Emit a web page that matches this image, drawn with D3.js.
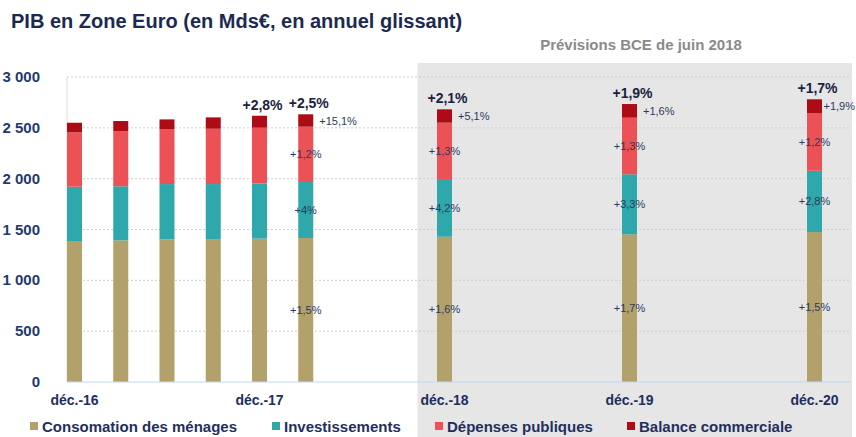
<!DOCTYPE html>
<html>
<head>
  <meta charset="utf-8">
  <title>PIB en Zone Euro</title>
  <script src="https://cdn.jsdelivr.net/npm/d3@7/dist/d3.min.js"></script>
  <style>
    body { margin: 0; background: #fff; }
    svg { display: block; font-family: "Liberation Sans", Arial, sans-serif; }
  </style>
</head>
<body>
  <svg id="chart"></svg>

  <script>
    // quarterly periods on the x axis (only some carry a bar)
    const periods = ["déc.-16", "mars-17", "juin-17", "sept.-17", "déc.-17", "mars-18", "juin-18", "sept.-18",
      "déc.-18", "mars-19", "juin-19", "sept.-19", "déc.-19", "mars-20", "juin-20", "sept.-20", "déc.-20"];
    const tickLabels = ["déc.-16", "déc.-17", "déc.-18", "déc.-19", "déc.-20"];
    const forecastStart = "déc.-18";

    // bars (Mds€)
    const barPeriods = ["déc.-16", "mars-17", "juin-17", "sept.-17", "déc.-17", "mars-18", "déc.-18", "déc.-19", "déc.-20"];
    const consommation = [1387, 1393, 1403, 1406, 1410, 1416, 1429, 1452, 1475];
    const investissements = [534, 532, 544, 541, 543, 551, 568, 591, 603];
    const depenses = [534, 541, 541, 544, 548, 544, 554, 557, 565];
    const balance = [95, 101, 95, 112, 118, 122, 131, 134, 138];

    // growth labels
    const totalLabels = ["", "", "", "", "+2,8%", "+2,5%", "+2,1%", "+1,9%", "+1,7%"];
    const consoLabels = ["", "", "", "", "", "+1,5%", "+1,6%", "+1,7%", "+1,5%"];
    const investLabels = ["", "", "", "", "", "+4%", "+4,2%", "+3,3%", "+2,8%"];
    const depLabels = ["", "", "", "", "", "+1,2%", "+1,3%", "+1,3%", "+1,2%"];
    const balLabels = ["", "", "", "", "", "+15,1%", "+5,1%", "+1,6%", "+1,9%"];

    const seriesNames = ["Consomation des ménages", "Investissements", "Dépenses publiques", "Balance commerciale"];
    const colors = ["#b3a16b", "#2ea8aa", "#eb5155", "#ad0b16"];

    const width = 856, height = 437;
    const navy = "#1f2f5e";

    const svg = d3.select("#chart")
      .attr("width", width)
      .attr("height", height);

    const x = d3.scalePoint().domain(periods).range([74.5, 814.5]);
    const y = d3.scaleLinear().domain([0, 3000]).range([382, 77]);
    const barW = 15;
    const plotLeft = 67, plotRight = 851;

    // forecast zone
    svg.append("rect")
      .attr("x", x(forecastStart) - 27)
      .attr("y", 63)
      .attr("width", plotRight + 1 - (x(forecastStart) - 27))
      .attr("height", height - 63)
      .attr("fill", "#e6e6e6");

    svg.append("text")
      .attr("x", 641)
      .attr("y", 50)
      .attr("text-anchor", "middle")
      .attr("font-size", 15)
      .attr("font-weight", "bold")
      .attr("fill", "#8a8a8a")
      .text("Prévisions BCE de juin 2018");

    // title
    svg.append("text")
      .attr("x", 11)
      .attr("y", 28)
      .attr("font-size", 20)
      .attr("font-weight", "bold")
      .attr("fill", "#1c2a52")
      .text("PIB en Zone Euro (en Mds€, en annuel glissant)");

    // grid
    const fmt = d3.formatLocale({ decimal: ",", thousands: " ", grouping: [3] }).format(",");
    const yTicks = d3.range(0, 3001, 500);

    svg.append("g")
      .selectAll("line")
      .data(yTicks.filter(d => d > 0))
      .join("line")
      .attr("x1", plotLeft).attr("x2", plotRight)
      .attr("y1", d => y(d)).attr("y2", d => y(d))
      .attr("stroke", "#cfcfcf")
      .attr("stroke-dasharray", "2,2");

    svg.append("line")
      .attr("x1", plotLeft).attr("x2", plotLeft)
      .attr("y1", y(3000)).attr("y2", y(0))
      .attr("stroke", "#dcdcdc");

    svg.append("g")
      .selectAll("text")
      .data(yTicks)
      .join("text")
      .attr("x", 40)
      .attr("y", d => y(d) + 5)
      .attr("text-anchor", "end")
      .attr("font-size", 15)
      .attr("font-weight", "bold")
      .attr("fill", "#1f3a70")
      .text(d => fmt(d));

    // stacked bars
    const rows = barPeriods.map((p, i) => ({
      period: p,
      values: [consommation[i], investissements[i], depenses[i], balance[i]],
      labels: [consoLabels[i], investLabels[i], depLabels[i], balLabels[i]],
      total: totalLabels[i]
    }));

    const segs = [];
    rows.forEach(r => {
      let acc = 0;
      r.values.forEach((v, k) => {
        segs.push({ period: r.period, k, y0: acc, y1: acc + v, label: r.labels[k] });
        acc += v;
      });
      r.sum = acc;
    });

    svg.append("g")
      .selectAll("rect")
      .data(segs)
      .join("rect")
      .attr("x", d => x(d.period) - barW / 2)
      .attr("y", d => y(d.y1))
      .attr("width", barW)
      .attr("height", d => y(d.y0) - y(d.y1))
      .attr("fill", d => colors[d.k]);

    // baseline
    svg.append("line")
      .attr("x1", plotLeft).attr("x2", plotRight)
      .attr("y1", y(0)).attr("y2", y(0))
      .attr("stroke", "#c8d6f0");

    // segment labels
    svg.append("g")
      .selectAll("text")
      .data(segs.filter(d => d.label))
      .join("text")
      .attr("x", d => d.k === 3 ? x(d.period) + barW / 2 + 6 : x(d.period))
      .attr("y", d => (y(d.y0) + y(d.y1)) / 2 + 4)
      .attr("text-anchor", d => d.k === 3 ? "start" : "middle")
      .attr("font-size", 11)
      .attr("fill", "#2c3a5e")
      .text(d => d.label)
      .each(function (d) {
        // keep the side labels inside the picture
        if (d.k !== 3) return;
        const w = this.getComputedTextLength();
        const x0 = +this.getAttribute("x");
        if (x0 + w > width - 1) this.setAttribute("x", width - 1 - w);
      });

    // total growth labels
    svg.append("g")
      .selectAll("text")
      .data(rows.filter(d => d.total))
      .join("text")
      .attr("x", d => x(d.period) + 3)
      .attr("y", d => y(d.sum) - 6)
      .attr("text-anchor", "middle")
      .attr("font-size", 14)
      .attr("font-weight", "bold")
      .attr("fill", "#1a2240")
      .text(d => d.total);

    // x tick labels
    svg.append("g")
      .selectAll("text")
      .data(tickLabels)
      .join("text")
      .attr("x", d => x(d))
      .attr("y", 405)
      .attr("text-anchor", "middle")
      .attr("font-size", 14)
      .attr("font-weight", "bold")
      .attr("fill", navy)
      .text(d => d);

    // legend
    const legendX = [30, 272, 435, 627];
    const legend = svg.append("g")
      .selectAll("g")
      .data(seriesNames)
      .join("g")
      .attr("transform", (d, i) => `translate(${legendX[i]},427)`);

    legend.append("rect")
      .attr("x", 0).attr("y", -5)
      .attr("width", 8).attr("height", 8)
      .attr("fill", (d, i) => colors[i]);

    legend.append("text")
      .attr("x", 12)
      .attr("y", 5)
      .attr("font-size", 15)
      .attr("font-weight", "bold")
      .attr("fill", navy)
      .text(d => d);
  </script>
</body>
</html>
